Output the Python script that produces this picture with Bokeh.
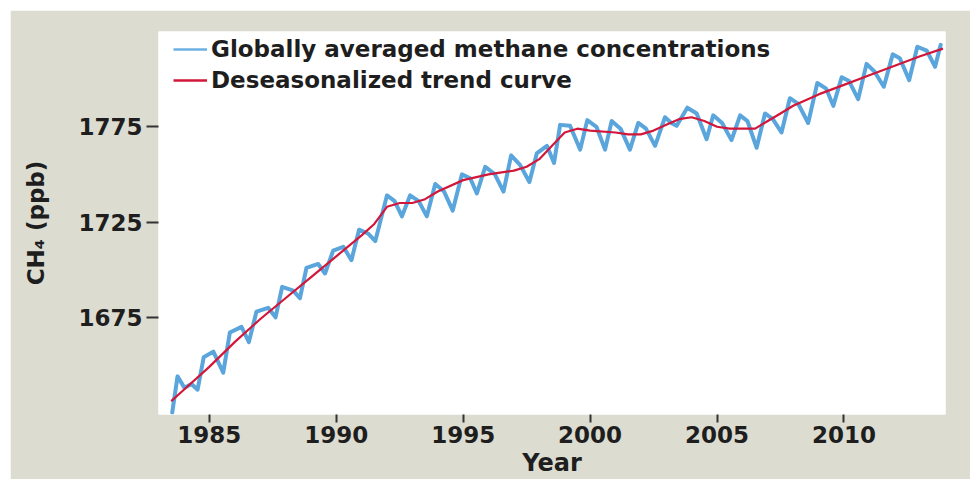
from bokeh.plotting import figure
from bokeh.models import Range1d, Legend, LegendItem, FixedTicker
from bokeh.embed import file_html
from bokeh.resources import INLINE

# Globally averaged monthly methane (ppb): seasonal peaks, shoulders and troughs
blue_year = [
    1983.54, 1983.75, 1984.02, 1984.30, 1984.54, 1984.78, 1985.16, 1985.55, 1985.81,
    1986.27, 1986.56, 1986.86, 1987.32, 1987.61, 1987.87, 1988.31, 1988.57, 1988.83,
    1989.29, 1989.56, 1989.88, 1990.28, 1990.60, 1990.90, 1991.25, 1991.54, 1992.00,
    1992.30, 1992.59, 1992.91, 1993.25, 1993.57, 1993.90, 1994.25, 1994.59, 1994.95,
    1995.28, 1995.54, 1995.87, 1996.25, 1996.59, 1996.89, 1997.24, 1997.61, 1997.90,
    1998.30, 1998.58, 1998.82, 1999.21, 1999.61, 1999.89, 2000.25, 2000.59, 2000.85,
    2001.20, 2001.57, 2001.90, 2002.20, 2002.56, 2002.95, 2003.20, 2003.41, 2003.83,
    2004.20, 2004.59, 2004.85, 2005.20, 2005.57, 2005.91, 2006.20, 2006.56, 2006.89,
    2007.20, 2007.54, 2007.87, 2008.20, 2008.59, 2008.95, 2009.30, 2009.58, 2009.91,
    2010.20, 2010.56, 2010.89, 2011.20, 2011.57, 2011.92, 2012.20, 2012.57, 2012.89,
    2013.26, 2013.59, 2013.81,
]
blue_ch4 = [
    1625.0, 1644.0, 1638.0, 1640.0, 1637.0, 1654.0, 1657.0, 1646.0, 1667.0,
    1670.0, 1662.0, 1678.0, 1680.0, 1675.0, 1691.0, 1689.0, 1685.0, 1701.0,
    1703.0, 1698.0, 1710.0, 1712.0, 1705.0, 1721.0, 1719.0, 1715.0, 1739.0,
    1736.0, 1728.0, 1739.0, 1736.0, 1728.0, 1745.0, 1741.0, 1731.0, 1750.0,
    1748.0, 1740.0, 1754.0, 1750.0, 1741.0, 1760.0, 1755.0, 1746.0, 1761.0,
    1765.0, 1756.0, 1776.0, 1775.5, 1763.0, 1778.5, 1775.0, 1763.0, 1778.0,
    1774.0, 1763.0, 1777.0, 1774.0, 1765.0, 1780.0, 1777.0, 1775.5, 1785.0,
    1782.0, 1768.5, 1781.0, 1777.0, 1768.0, 1781.0, 1778.0, 1764.0, 1782.0,
    1779.0, 1772.0, 1790.0, 1787.0, 1777.0, 1798.0, 1795.0, 1786.0, 1801.0,
    1799.0, 1789.5, 1808.0, 1804.0, 1796.0, 1813.0, 1811.0, 1799.5, 1817.0,
    1815.0, 1806.5, 1818.0,
]

# Deseasonalized trend (ppb)
trend_year = [
    1983.5, 1984.0, 1985.0, 1986.0, 1987.0, 1988.0, 1989.0, 1990.0, 1991.0, 1991.5,
    1992.0, 1992.5, 1993.0, 1993.5, 1994.0, 1995.0, 1996.0, 1997.0, 1997.5, 1998.0,
    1998.5, 1999.0, 1999.5, 2000.0, 2001.0, 2001.5, 2002.0, 2002.5, 2003.0, 2003.5,
    2004.0, 2004.5, 2005.0, 2005.5, 2006.0, 2006.5, 2007.0, 2007.5, 2008.0, 2009.0,
    2010.0, 2011.0, 2012.0, 2013.0, 2013.9,
]
trend_ch4 = [
    1631.0, 1637.0, 1649.0, 1662.0, 1674.0, 1685.0, 1696.0, 1707.0, 1718.0, 1724.0,
    1733.0, 1735.0, 1735.0, 1737.0, 1741.0, 1747.0, 1750.0, 1752.0, 1754.0, 1758.0,
    1765.0, 1772.0, 1774.0, 1773.0, 1772.0, 1771.0, 1771.0, 1773.0, 1776.0, 1779.0,
    1780.0, 1778.0, 1775.0, 1774.0, 1774.0, 1774.0, 1778.0, 1782.0, 1786.0, 1792.0,
    1797.0, 1802.0, 1807.0, 1812.0, 1816.0,
]

x_ticks = [1985, 1990, 1995, 2000, 2005, 2010]
y_ticks = [1675, 1725, 1775]

BLUE = "#5aa5dc"
RED = "#d2173a"
PANEL = "#dcdcd1"
INK = "#1e1e1e"
FONT = "DejaVu Sans"
NAN = float("nan")

p = figure(
    width=960, height=469, margin=(10, 0, 0, 10),
    output_backend="svg", toolbar_location=None,
    x_range=Range1d(1983.0, 2014.0), y_range=Range1d(1624, 1825),
    min_border_left=148, min_border_right=25, min_border_top=21, min_border_bottom=65,
    background_fill_color="white", border_fill_color=PANEL,
)
p.outline_line_color = None
p.grid.visible = False

blue = p.line(blue_year, blue_ch4, line_color=BLUE, line_width=4,
              line_join="round", line_cap="round")
red = p.line(trend_year, trend_ch4, line_color=RED, line_width=2.2,
             line_join="round")

# thin swatches for the key (nothing plotted)
key_blue = p.line([NAN], [NAN], line_color="#6db0e2", line_width=2.5)
key_red = p.line([NAN], [NAN], line_color=RED, line_width=2.5)

for ax in (p.xaxis[0], p.yaxis[0]):
    ax.axis_line_color = None
    ax.minor_tick_line_color = None
    ax.major_tick_in = 0
    ax.major_tick_line_color = "#333333"
    ax.major_tick_line_width = 2
    ax.major_label_text_font = FONT
    ax.major_label_text_font_style = "bold"
    ax.major_label_text_font_size = "23px"
    ax.major_label_text_color = INK
    ax.axis_label_text_font = FONT
    ax.axis_label_text_color = INK

p.xaxis.ticker = FixedTicker(ticks=x_ticks)
p.yaxis.ticker = FixedTicker(ticks=y_ticks)
p.xaxis.major_tick_out = 8
p.xaxis.major_label_standoff = 3
p.xaxis.axis_label = "Year"
p.xaxis.axis_label_text_font_style = "bold"
p.xaxis.axis_label_text_font_size = "24px"
p.xaxis.axis_label_standoff = 3

p.yaxis.major_tick_out = 12
p.yaxis.major_label_standoff = 4
p.yaxis.axis_label = "CH\u2084 (ppb)"
p.yaxis.axis_label_text_font_style = "bold"
p.yaxis.axis_label_text_font_size = "23px"
p.yaxis.axis_label_standoff = 26

legend = Legend(
    items=[
        LegendItem(label="Globally averaged methane concentrations", renderers=[key_blue]),
        LegendItem(label="Deseasonalized trend curve", renderers=[key_red]),
    ],
    location=(15, 321), orientation="vertical",
    background_fill_alpha=0, border_line_color=None,
    label_text_font=FONT, label_text_font_style="bold",
    label_text_font_size="23px", label_text_color=INK,
    glyph_width=34, glyph_height=20, label_standoff=4,
    spacing=5, padding=3, margin=0,
)
p.add_layout(legend)

open("out.html", "w").write(file_html(p, INLINE))
